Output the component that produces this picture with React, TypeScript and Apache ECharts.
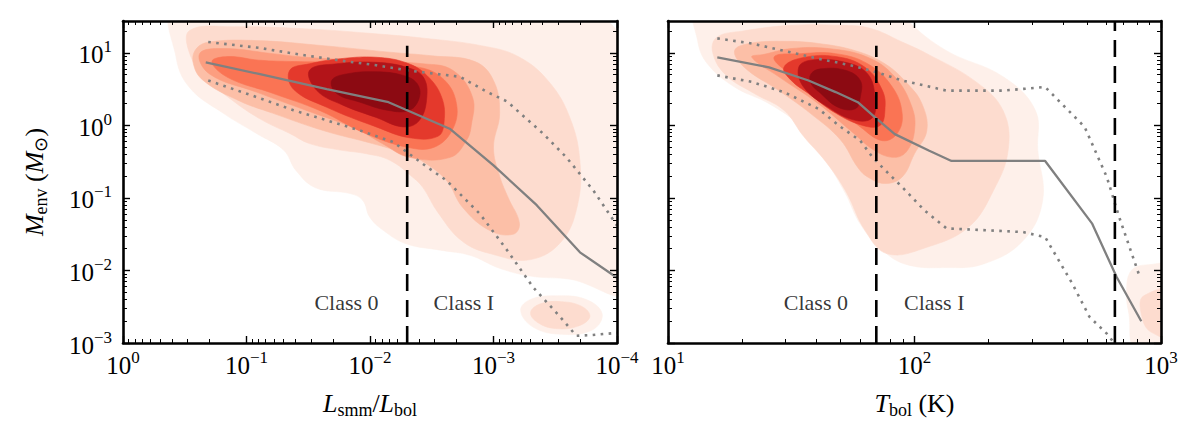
import React, { useEffect, useRef } from "react";
import * as echarts from "echarts";

const FONT = "Liberation Serif";

// everything below is in log10 units
const yRange = [-3, 1.44];
const leftXRange = [-4, 0];
const rightXRange = [1, 3];

const yMajor = [-3, -2, -1, 0, 1];
const leftXMajor = [0, -1, -2, -3, -4];
const rightXMajor = [1, 2, 3];

// class boundaries: Lsmm/Lbol = 0.005, Tbol = 70 K and 650 K
const leftBoundary = Math.log10(0.005);
const rightBoundaries = [Math.log10(70), Math.log10(650)];
const boundaryTop = [1.1, 1.1, 1.44];

// median and 16/84 percentile curves
const leftMedian = [[-0.67, 0.87], [-1.1, 0.71], [-1.65, 0.5], [-2.15, 0.32], [-2.3, 0.21], [-2.65, -0.05], [-3.0, -0.55], [-3.35, -1.1], [-3.7, -1.75], [-4.0, -2.1]];
const leftUpper = [[-0.69, 1.15], [-1.1, 1.07], [-1.46, 0.97], [-1.78, 0.89], [-2.05, 0.83], [-2.3, 0.76], [-2.54, 0.71], [-2.73, 0.67], [-2.95, 0.46], [-3.11, 0.33], [-3.4, -0.11], [-3.59, -0.44], [-3.81, -0.9], [-4.0, -1.38]];
const leftLower = [[-0.69, 0.62], [-1.1, 0.38], [-1.38, 0.21], [-1.65, 0.07], [-1.92, -0.07], [-2.19, -0.23], [-2.3, -0.37], [-2.46, -0.57], [-2.62, -0.76], [-2.89, -1.22], [-3.11, -1.72], [-3.32, -2.23], [-3.54, -2.64], [-3.67, -2.9], [-3.8, -2.89], [-4.0, -2.86]];

const rightMedian = [[1.2, 0.94], [1.41, 0.8], [1.57, 0.62], [1.68, 0.46], [1.77, 0.32], [1.84, 0.11], [1.92, -0.12], [2.06, -0.35], [2.15, -0.49], [2.53, -0.49], [2.72, -1.35], [2.82, -2.09], [2.92, -2.7]];
const rightUpper = [[1.2, 1.2], [1.34, 1.13], [1.47, 1.03], [1.61, 0.92], [1.74, 0.83], [1.84, 0.74], [1.95, 0.62], [2.04, 0.55], [2.13, 0.48], [2.36, 0.48], [2.53, 0.53], [2.69, -0.02], [2.78, -0.71], [2.83, -1.26], [2.91, -2.05]];
const rightLower = [[1.2, 0.69], [1.34, 0.6], [1.47, 0.46], [1.61, 0.23], [1.7, -0.02], [1.78, -0.21], [1.83, -0.44], [1.87, -0.58], [1.95, -0.85], [2.04, -1.17], [2.13, -1.42], [2.44, -1.47], [2.53, -1.54], [2.64, -2.18], [2.71, -2.64], [2.78, -2.87], [2.81, -3.0]];

// density contour outlines, outermost level first
const leftLevel1 = [[-0.43, 1.6], [-0.43, 0.94], [-0.54, 0.52], [-0.81, 0.17], [-1.08, -0.11], [-1.3, -0.34], [-1.4, -0.62], [-1.56, -0.86], [-1.84, -0.94], [-1.94, -1.03], [-2.0, -1.27], [-2.11, -1.45], [-2.29, -1.63], [-2.57, -1.72], [-2.81, -1.79], [-3.05, -1.97], [-3.31, -2.08], [-3.62, -2.12], [-4.1, -2.28], [-4.1, 0.9], [-3.7, 1.6]];
const leftIsland1 = [[-3.22, -2.55], [-3.3, -2.4], [-3.5, -2.35], [-3.75, -2.4], [-3.88, -2.6], [-3.8, -2.82], [-3.55, -2.88], [-3.32, -2.78]];
const leftLevel2 = [[-0.54, 1.31], [-0.9, 1.36], [-1.5, 1.33], [-2.0, 1.27], [-2.45, 1.2], [-2.9, 1.1], [-3.2, 0.95], [-3.45, 0.6], [-3.62, 0.1], [-3.7, -0.5], [-3.68, -1.1], [-3.55, -1.6], [-3.3, -1.85], [-3.0, -1.78], [-2.75, -1.6], [-2.55, -1.2], [-2.43, -0.86], [-2.35, -0.72], [-2.16, -0.48], [-1.97, -0.39], [-1.76, -0.34], [-1.51, -0.25], [-1.35, -0.11], [-1.13, 0.07], [-0.89, 0.34], [-0.67, 0.66], [-0.54, 0.99]];
const leftIsland2 = [[-3.3, -2.58], [-3.38, -2.46], [-3.55, -2.43], [-3.72, -2.5], [-3.78, -2.64], [-3.68, -2.77], [-3.5, -2.8], [-3.36, -2.72]];
const leftLevel3 = [[-0.59, 1.05], [-0.7, 1.15], [-1.08, 1.17], [-1.62, 1.1], [-2.16, 1.01], [-2.5, 0.96], [-2.85, 0.88], [-3.0, 0.62], [-3.05, 0.17], [-3.0, -0.3], [-3.05, -0.7], [-3.12, -1.0], [-3.21, -1.35], [-3.16, -1.5], [-2.97, -1.45], [-2.75, -1.13], [-2.62, -0.76], [-2.43, -0.5], [-2.29, -0.39], [-2.02, -0.25], [-1.62, -0.07], [-1.21, 0.17], [-0.94, 0.34], [-0.65, 0.62], [-0.57, 0.85]];
const leftLevel4 = [[-0.62, 0.99], [-0.81, 1.06], [-1.21, 0.99], [-1.48, 0.94], [-1.89, 0.9], [-2.43, 0.85], [-2.67, 0.76], [-2.83, 0.39], [-2.82, 0.0], [-2.78, -0.21], [-2.65, -0.44], [-2.32, -0.44], [-2.1, -0.25], [-1.89, -0.05], [-1.48, 0.21], [-1.08, 0.46], [-0.7, 0.71]];
const leftLevel5 = [[-0.72, 0.88], [-0.85, 0.95], [-1.1, 0.9], [-1.4, 0.88], [-1.9, 0.86], [-2.4, 0.8], [-2.6, 0.63], [-2.7, 0.3], [-2.67, -0.05], [-2.52, -0.3], [-2.3, -0.3], [-1.95, -0.1], [-1.6, 0.2], [-1.2, 0.45], [-0.85, 0.66]];
const leftLevel6 = [[-1.35, 0.76], [-1.51, 0.85], [-1.76, 0.92], [-2.05, 0.94], [-2.3, 0.86], [-2.46, 0.69], [-2.58, 0.39], [-2.6, 0.05], [-2.55, -0.15], [-2.32, -0.17], [-2.05, -0.02], [-1.65, 0.25], [-1.38, 0.5]];
const leftLevel7 = [[-1.51, 0.76], [-1.73, 0.85], [-2.05, 0.87], [-2.3, 0.8], [-2.43, 0.67], [-2.46, 0.39], [-2.4, 0.07], [-2.27, -0.02], [-2.05, 0.11], [-1.78, 0.28], [-1.57, 0.48]];
const leftLevel8 = [[-1.69, 0.62], [-1.81, 0.71], [-2.05, 0.74], [-2.27, 0.69], [-2.38, 0.58], [-2.4, 0.39], [-2.32, 0.21], [-2.14, 0.21], [-1.92, 0.32], [-1.73, 0.44]];

const rightLevel1 = [[1.12, 1.6], [1.12, 1.17], [1.16, 0.85], [1.27, 0.53], [1.41, 0.3], [1.54, -0.02], [1.64, -0.48], [1.72, -0.94], [1.78, -1.36], [1.87, -1.72], [1.97, -1.92], [2.13, -1.96], [2.28, -1.91], [2.44, -1.59], [2.52, -1.03], [2.5, -0.34], [2.49, 0.21], [2.36, 0.67], [2.13, 1.03], [1.97, 1.45], [1.95, 1.6]];
const rightBlob1 = [[2.88, -2.0], [2.95, -1.92], [3.1, -1.95], [3.1, -3.1], [2.9, -3.1], [2.87, -2.6], [2.86, -2.3]];
const rightLevel2 = [[1.18, 1.03], [1.2, 1.22], [1.3, 1.3], [1.5, 1.38], [1.7, 1.38], [1.82, 1.34], [1.95, 1.15], [2.05, 0.99], [2.25, 0.6], [2.36, 0.2], [2.38, -0.34], [2.32, -0.9], [2.22, -1.4], [2.05, -1.68], [1.89, -1.77], [1.8, -1.45], [1.72, -0.9], [1.64, -0.5], [1.55, -0.15], [1.47, 0.21], [1.35, 0.44], [1.23, 0.71]];
const rightBlob2 = [[2.93, -2.35], [3.1, -2.25], [3.1, -2.95], [2.96, -2.85], [2.92, -2.6]];
const rightLevel3 = [[1.27, 1.03], [1.33, 1.13], [1.47, 1.16], [1.61, 1.13], [1.76, 1.03], [1.88, 0.85], [1.97, 0.58], [2.03, 0.3], [2.05, -0.07], [2.0, -0.39], [1.95, -0.71], [1.88, -0.8], [1.81, -0.71], [1.77, -0.58], [1.7, -0.2], [1.58, 0.16], [1.45, 0.48], [1.31, 0.8]];
const rightLevel4 = [[1.34, 0.94], [1.39, 0.98], [1.5, 1.06], [1.65, 1.06], [1.81, 0.94], [1.92, 0.67], [1.99, 0.25], [2.0, -0.07], [1.97, -0.35], [1.92, -0.44], [1.84, -0.35], [1.74, -0.07], [1.61, 0.3], [1.45, 0.67]];
const rightLevel5 = [[1.43, 0.94], [1.54, 0.99], [1.68, 0.99], [1.81, 0.85], [1.91, 0.53], [1.95, 0.16], [1.93, -0.11], [1.87, -0.21], [1.78, -0.02], [1.65, 0.34], [1.51, 0.67]];
const rightLevel6 = [[1.47, 0.8], [1.54, 0.93], [1.68, 0.95], [1.8, 0.8], [1.87, 0.48], [1.88, 0.21], [1.86, 0.0], [1.79, 0.0], [1.68, 0.17], [1.57, 0.44], [1.5, 0.62]];
const rightLevel7 = [[1.53, 0.8], [1.58, 0.9], [1.72, 0.87], [1.81, 0.71], [1.84, 0.39], [1.83, 0.11], [1.76, 0.07], [1.65, 0.25], [1.55, 0.53]];
const rightLevel8 = [[1.58, 0.71], [1.62, 0.78], [1.72, 0.76], [1.78, 0.62], [1.78, 0.39], [1.76, 0.23], [1.69, 0.25], [1.62, 0.44], [1.58, 0.58]];

const levelColors = ["#fef0ea", "#fddccf", "#fcbfa7", "#fc9e80", "#fa7454", "#e4392c", "#b31419", "#8c0a12"];

const leftContours: [number, number[][]][] = [
  [0, leftLevel1], [0, leftIsland1], [1, leftLevel2], [1, leftIsland2], [2, leftLevel3],
  [3, leftLevel4], [4, leftLevel5], [5, leftLevel6], [6, leftLevel7], [7, leftLevel8],
];
const rightContours: [number, number[][]][] = [
  [0, rightLevel1], [0, rightBlob1], [1, rightLevel2], [1, rightBlob2], [2, rightLevel3],
  [3, rightLevel4], [4, rightLevel5], [5, rightLevel6], [6, rightLevel7], [7, rightLevel8],
];

const leftClassLabels = [{ name: "Class 0", value: [-1.81, -2.44] }, { name: "Class I", value: [-2.76, -2.44] }];
const rightClassLabels = [{ name: "Class 0", value: [1.6, -2.44] }, { name: "Class I", value: [2.08, -2.44] }];

// minor ticks of a log axis: log10(m * 10^k), m = 2..9
const minorTicks = (lo: number, hi: number) => {
  const out: number[] = [];
  for (let k = Math.floor(lo); k < hi; k++) {
    for (let m = 2; m <= 9; m++) {
      const v = k + Math.log10(m);
      if (v > lo && v < hi) out.push(v);
    }
  }
  return out;
};

const tickRich = {
  b: { fontFamily: FONT, fontSize: 25, lineHeight: 29, color: "#000", verticalAlign: "bottom" },
  sup: { fontFamily: FONT, fontSize: 17, lineHeight: 17, color: "#000", verticalAlign: "top" },
};
const nameRich = {
  i: { fontFamily: FONT, fontStyle: "italic", fontSize: 26, lineHeight: 32, color: "#000", verticalAlign: "middle" },
  r: { fontFamily: FONT, fontSize: 26, lineHeight: 32, color: "#000", verticalAlign: "middle" },
  s: { fontFamily: FONT, fontSize: 18, lineHeight: 17, color: "#000", verticalAlign: "bottom" },
};

const powLabel = (v: number) => {
  const e = Math.round(v);
  return `{b|10}{sup|${e < 0 ? "\u2212" + -e : e}}`;
};

const frameLine = { show: true, onZero: false, lineStyle: { color: "#000", width: 2.6 } };
const hiddenLine = { show: false, onZero: false };
const majorTick = (values: number[]) => ({
  show: true, inside: true, length: 7, customValues: values, lineStyle: { color: "#000", width: 1.4 },
});
const minorTick = (values: number[]) => ({
  show: true, inside: true, length: 4, customValues: values, lineStyle: { color: "#000", width: 1 },
});

const buildAxes = (
  gridIndex: number, positions: [string, string], range: number[], inverse: boolean,
  major: number[], minor: number[], labelled: boolean, margin: number, extra: any,
) => {
  const base = { type: "value", gridIndex, min: range[0], max: range[1], inverse, splitLine: { show: false }, z: 6 };
  return [
    {
      ...base, position: positions[0], axisLine: frameLine, axisTick: majorTick(major),
      axisLabel: labelled
        ? {
            show: true, customValues: major, formatter: powLabel, rich: tickRich, margin,
            fontFamily: FONT, fontSize: 25, color: "#000", showMinLabel: true, showMaxLabel: true,
          }
        : { show: false },
      ...extra,
    },
    { ...base, position: positions[1], axisLine: frameLine, axisTick: majorTick(major), axisLabel: { show: false } },
    { ...base, position: positions[0], axisLine: hiddenLine, axisTick: minorTick(minor), axisLabel: { show: false } },
    { ...base, position: positions[1], axisLine: hiddenLine, axisTick: minorTick(minor), axisLabel: { show: false } },
  ];
};

const contourSeries = (contours: [number, number[][]][], axis: number, anchor: number[]) => ({
  type: "custom",
  xAxisIndex: axis,
  yAxisIndex: axis,
  clip: true,
  silent: true,
  z: 1,
  data: contours.map(() => anchor),
  renderItem: (params: any, api: any) => {
    const [level, pts] = contours[params.dataIndex];
    return {
      type: "polygon",
      shape: { points: pts.map((p) => api.coord(p)), smooth: 0.4 },
      style: { fill: levelColors[level], stroke: levelColors[level], lineWidth: 0.6 },
    };
  },
});

const curve = (data: number[][], axis: number, dotted: boolean) => ({
  type: "line",
  xAxisIndex: axis,
  yAxisIndex: axis,
  data,
  showSymbol: false,
  silent: true,
  z: 3,
  lineStyle: dotted
    ? { color: "#808080", width: 2.6, type: [2.6, 5.4], cap: "butt" }
    : { color: "#808080", width: 2.3 },
});

const divider = (x: number, top: number, axis: number) => ({
  type: "line",
  xAxisIndex: axis,
  yAxisIndex: axis,
  data: [[x, yRange[0]], [x, top]],
  showSymbol: false,
  silent: true,
  z: 4,
  lineStyle: { color: "#000", width: 2.6, type: [17, 9], cap: "butt" },
});

const classText = (labels: any[], axis: number) => ({
  type: "scatter",
  xAxisIndex: axis,
  yAxisIndex: axis,
  data: labels,
  symbolSize: 0,
  silent: true,
  z: 5,
  label: { show: true, position: "inside", formatter: "{b}", fontFamily: FONT, fontSize: 22, color: "#000" },
});

const App = () => {
  const chartRef = useRef<HTMLDivElement>(null);

  useEffect(() => {
    if (!chartRef.current) return;
    const chart = echarts.init(chartRef.current, null, { renderer: "svg" });

    const leftX = buildAxes(0, ["bottom", "top"], leftXRange, true, leftXMajor, minorTicks(-4, 0), true, 6, {
      name: "{i|L}{s|smm}{r|/}{i|L}{s|bol}",
      nameLocation: "middle",
      nameGap: 44,
      nameTextStyle: { rich: nameRich },
    });
    const rightX = buildAxes(1, ["bottom", "top"], rightXRange, false, rightXMajor, minorTicks(1, 3), true, 6, {
      name: "{i|T}{s|bol}{r| (K)}",
      nameLocation: "middle",
      nameGap: 44,
      nameTextStyle: { rich: nameRich },
    });
    const leftY = buildAxes(0, ["left", "right"], yRange, false, yMajor, minorTicks(-3, 1.44), true, 11, {
      name: "{i|M}{s|env}{r| (}{i|M}{s|\u2299}{r|)}",
      nameLocation: "middle",
      nameGap: 73,
      nameTextStyle: { rich: nameRich },
    });
    const rightY = buildAxes(1, ["left", "right"], yRange, false, yMajor, minorTicks(-3, 1.44), false, 11, {});

    chart.setOption({
      animation: false,
      backgroundColor: "#fff",
      grid: [
        { left: 123, top: 21, width: 494, height: 322 },
        { left: 668, top: 21, width: 493, height: 322 },
      ],
      xAxis: [...leftX, ...rightX],
      yAxis: [...leftY, ...rightY],
      series: [
        contourSeries(leftContours, 0, [-2, 0]),
        contourSeries(rightContours, 4, [2, 0]),
        curve(leftMedian, 0, false),
        curve(leftUpper, 0, true),
        curve(leftLower, 0, true),
        curve(rightMedian, 4, false),
        curve(rightUpper, 4, true),
        curve(rightLower, 4, true),
        divider(leftBoundary, boundaryTop[0], 0),
        divider(rightBoundaries[0], boundaryTop[1], 4),
        divider(rightBoundaries[1], boundaryTop[2], 4),
        classText(leftClassLabels, 0),
        classText(rightClassLabels, 4),
      ],
    } as any);

    return () => chart.dispose();
  }, []);

  return (
    <div
      ref={chartRef}
      style={{ position: "fixed", left: 0, top: 0, width: "1200px", height: "438px", background: "#fff" }}
    />
  );
};

export default App;
